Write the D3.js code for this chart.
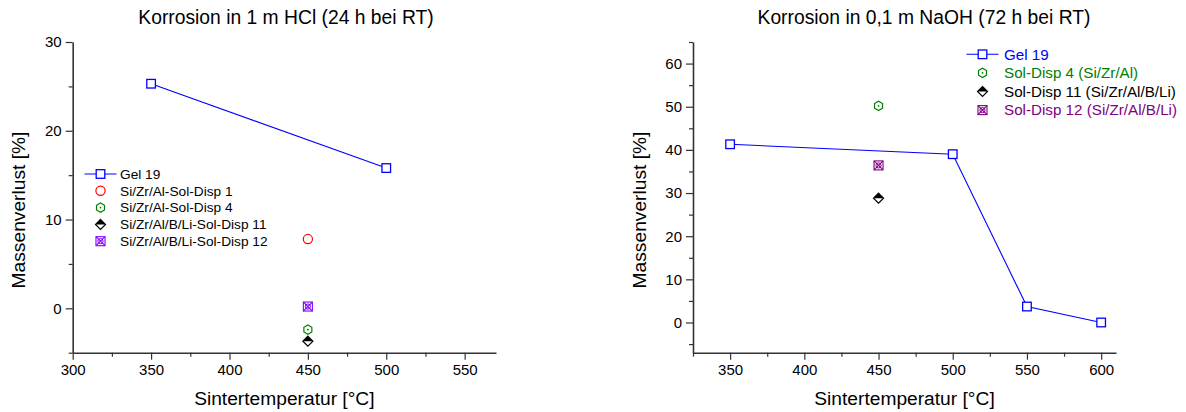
<!DOCTYPE html>
<html>
<head>
<meta charset="utf-8">
<script src="https://cdn.jsdelivr.net/npm/d3@7"></script>
<style>
  html, body { margin: 0; padding: 0; background: #fff; }
  svg { display: block; font-family: "Liberation Sans", Arial, sans-serif; }
</style>
</head>
<body>
<svg id="chart" width="1186" height="412"></svg>
<script>
// ---- Data: HCl panel ----
const hclTitle = "Korrosion in 1 m HCl (24 h bei RT)";
const hclGelTemps = [350, 500];
const hclGelLoss = [25.3, 15.8];
const hclSolNames = ["Si/Zr/Al-Sol-Disp 1", "Si/Zr/Al-Sol-Disp 4", "Si/Zr/Al/B/Li-Sol-Disp 11", "Si/Zr/Al/B/Li-Sol-Disp 12"];
const hclSolTemps = [450, 450, 450, 450];
const hclSolLoss = [7.8, -2.4, -3.7, 0.2];
const hclSolSymbols = ["circle", "hexagon", "diamond", "xsquare"];
const hclSolColors = ["#ff0000", "#008000", "#000000", "#8000ff"];
const hclXTicks = [300, 350, 400, 450, 500, 550];
const hclYTicks = [0, 10, 20, 30];

// ---- Data: NaOH panel ----
const naohTitle = "Korrosion in 0,1 m NaOH (72 h bei RT)";
const naohGelTemps = [350, 500, 550, 600];
const naohGelLoss = [41.3, 39.0, 3.7, 0.0];
const naohSolNames = ["Sol-Disp 4 (Si/Zr/Al)", "Sol-Disp 11 (Si/Zr/Al/B/Li)", "Sol-Disp 12 (Si/Zr/Al/B/Li)"];
const naohSolTemps = [450, 450, 450];
const naohSolLoss = [50.2, 28.8, 36.4];
const naohSolSymbols = ["hexagon", "diamond", "xsquare"];
const naohSolColors = ["#008000", "#000000", "#800080"];
const naohXTicks = [350, 400, 450, 500, 550, 600];
const naohYTicks = [0, 10, 20, 30, 40, 50, 60];

const gelName = "Gel 19";
const gelColor = "#0000ff";
const xLabel = "Sintertemperatur [°C]";
const yLabel = "Massenverlust [%]";

const svg = d3.select("#chart");
const axisColor = "#333";

// Draws one marker symbol centred at (cx, cy)
function drawMarker(g, type, cx, cy, color) {
  const m = g.append("g").attr("transform", `translate(${cx},${cy})`);
  if (type === "square") {
    m.append("rect").attr("x", -4.3).attr("y", -4.3).attr("width", 8.6).attr("height", 8.6)
      .attr("fill", "#fff").attr("stroke", color).attr("stroke-width", 1.3);
  } else if (type === "circle") {
    m.append("circle").attr("r", 4.6).attr("fill", "none").attr("stroke", color).attr("stroke-width", 1.2);
  } else if (type === "hexagon") {
    const r = 4.6;
    const pts = d3.range(6).map(i => {
      const a = Math.PI / 6 + i * Math.PI / 3;
      return [r * Math.cos(a), r * Math.sin(a)];
    });
    m.append("polygon").attr("points", pts.map(p => p.join(",")).join(" "))
      .attr("fill", "none").attr("stroke", color).attr("stroke-width", 1.2);
    m.append("circle").attr("r", 0.9).attr("fill", color);
  } else if (type === "diamond") {
    const r = 5;
    m.append("polygon").attr("points", `0,${-r} ${r},0 0,${r} ${-r},0`)
      .attr("fill", "#fff").attr("stroke", color).attr("stroke-width", 1.2);
    m.append("polygon").attr("points", `0,${-r} ${r},0 ${-r},0`).attr("fill", color);
  } else if (type === "xsquare") {
    const r = 4.5;
    m.append("rect").attr("x", -r).attr("y", -r).attr("width", 2 * r).attr("height", 2 * r)
      .attr("fill", "none").attr("stroke", color).attr("stroke-width", 1.1);
    m.append("path").attr("d", `M${-r},${-r}L${r},${r}M${r},${-r}L${-r},${r}`)
      .attr("stroke", color).attr("stroke-width", 1.1);
    m.append("circle").attr("r", 2.6).attr("fill", "none").attr("stroke", color).attr("stroke-width", 1);
  }
}

function drawPanel(cfg) {
  const g = svg.append("g");
  const x = d3.scaleLinear().domain(cfg.xDomain).range([cfg.left, cfg.right]);
  const y = d3.scaleLinear().domain(cfg.yDomain).range([cfg.bottom, cfg.top]);

  // minor ticks
  const xMinor = d3.range(cfg.xDomain[0], cfg.xDomain[1] + 0.01, 25).filter(v => v % 50 !== 0);
  const yMinor = d3.range(Math.ceil(cfg.yDomain[0] / 5) * 5, cfg.yDomain[1] + 0.01, 5).filter(v => v % 10 !== 0);

  g.append("g").attr("transform", `translate(0,${cfg.bottom})`)
    .call(d3.axisBottom(x).tickValues(cfg.xTicks).tickSize(7).tickPadding(5).tickSizeOuter(0));
  g.append("g").attr("transform", `translate(0,${cfg.bottom})`)
    .call(d3.axisBottom(x).tickValues(xMinor).tickSize(4).tickFormat("").tickSizeOuter(0))
    .select(".domain").remove();
  g.append("g").attr("transform", `translate(${cfg.left},0)`)
    .call(d3.axisLeft(y).tickValues(cfg.yTicks).tickSize(7).tickPadding(4).tickSizeOuter(0));
  g.append("g").attr("transform", `translate(${cfg.left},0)`)
    .call(d3.axisLeft(y).tickValues(yMinor).tickSize(4).tickFormat("").tickSizeOuter(0))
    .select(".domain").remove();

  g.selectAll(".domain").attr("stroke", axisColor).attr("stroke-width", 1.6);
  g.selectAll(".tick line").attr("stroke", axisColor).attr("stroke-width", 1.2);
  g.selectAll(".tick text").attr("fill", "#000").style("font-size", "15px")
    .style("font-family", "'Liberation Sans', Arial, sans-serif");

  // titles and axis labels
  g.append("text").attr("x", cfg.titleX).attr("y", 24).attr("text-anchor", "middle")
    .style("font-size", "19.3px").text(cfg.title);
  g.append("text").attr("x", (cfg.left + cfg.right) / 2).attr("y", 405).attr("text-anchor", "middle")
    .style("font-size", "19.2px").text(xLabel);
  g.append("text").attr("transform", `translate(${cfg.yLabelX},${cfg.yLabelY}) rotate(-90)`)
    .attr("text-anchor", "middle").style("font-size", "19.2px").text(yLabel);

  // Gel line
  const line = d3.line().x(d => x(d[0])).y(d => y(d[1]));
  const gelPts = cfg.gelTemps.map((t, i) => [t, cfg.gelLoss[i]]);
  g.append("path").datum(gelPts).attr("d", line).attr("fill", "none")
    .attr("stroke", gelColor).attr("stroke-width", 1.1);
  gelPts.forEach(p => drawMarker(g, "square", x(p[0]), y(p[1]), gelColor));

  // Sol dispersions
  cfg.solTemps.forEach((t, i) => drawMarker(g, cfg.solSymbols[i], x(t), y(cfg.solLoss[i]), cfg.solColors[i]));

  // legend
  const lg = g.append("g");
  const rows = [{ name: gelName, sym: "square", color: gelColor, line: true }]
    .concat(cfg.solNames.map((n, i) => ({ name: n, sym: cfg.solSymbols[i], color: cfg.solColors[i], line: false })));
  rows.forEach((r, i) => {
    const yy = cfg.legY + i * cfg.legStep;
    if (r.line) {
      lg.append("line").attr("x1", cfg.legX - 16).attr("x2", cfg.legX + 16).attr("y1", yy).attr("y2", yy)
        .attr("stroke", r.color).attr("stroke-width", 1.1);
    }
    drawMarker(lg, r.sym, cfg.legX, yy, r.color);
    lg.append("text").attr("x", cfg.legTextX).attr("y", yy).attr("dy", "0.35em")
      .style("font-size", cfg.legFont).attr("fill", cfg.legTextColored ? r.color : "#000").text(r.name);
  });
}

drawPanel({
  xDomain: [300, 570], yDomain: [-5, 30],
  left: 72.7, right: 496, top: 42, bottom: 352.7,
  xTicks: hclXTicks, yTicks: hclYTicks,
  title: hclTitle, titleX: 286, yLabelX: 25, yLabelY: 210,
  gelTemps: hclGelTemps, gelLoss: hclGelLoss,
  solNames: hclSolNames, solTemps: hclSolTemps, solLoss: hclSolLoss,
  solSymbols: hclSolSymbols, solColors: hclSolColors,
  legX: 100.5, legTextX: 120, legY: 174, legStep: 16.8, legFont: "13.7px", legTextColored: false
});

drawPanel({
  xDomain: [325, 610], yDomain: [-7, 65],
  left: 693, right: 1116, top: 42, bottom: 352.7,
  xTicks: naohXTicks, yTicks: naohYTicks,
  title: naohTitle, titleX: 924, yLabelX: 646, yLabelY: 210,
  gelTemps: naohGelTemps, gelLoss: naohGelLoss,
  solNames: naohSolNames, solTemps: naohSolTemps, solLoss: naohSolLoss,
  solSymbols: naohSolSymbols, solColors: naohSolColors,
  legX: 982.5, legTextX: 1004, legY: 54.3, legStep: 18.6, legFont: "15.2px", legTextColored: true
});
</script>
</body>
</html>
